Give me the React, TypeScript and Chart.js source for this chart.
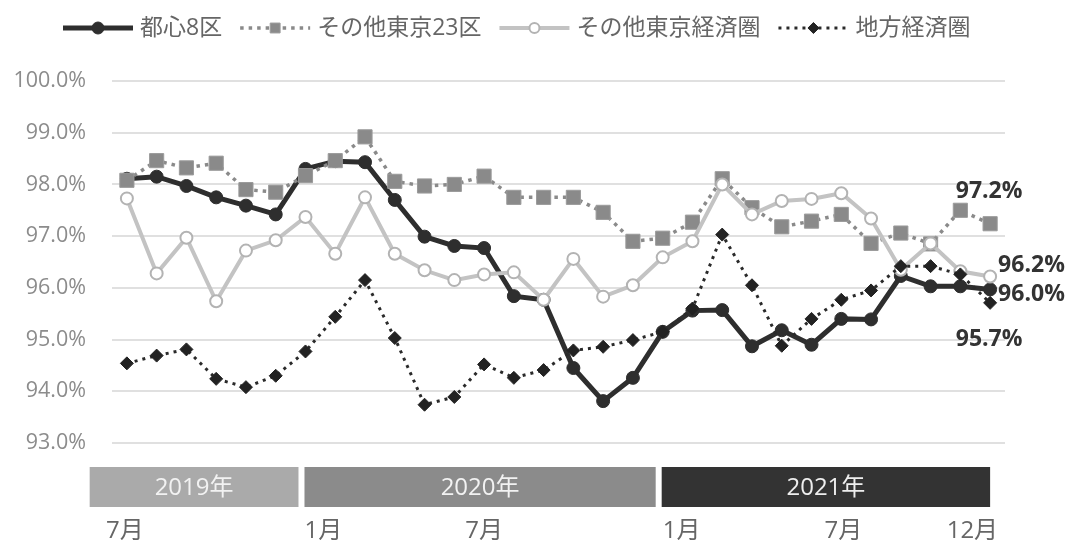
import React, { useEffect, useRef } from 'react';
import { Chart, registerables } from 'chart.js';

Chart.register(...registerables);

// ---- data ----
const months = [
  '2019-07', '2019-08', '2019-09', '2019-10', '2019-11', '2019-12',
  '2020-01', '2020-02', '2020-03', '2020-04', '2020-05', '2020-06',
  '2020-07', '2020-08', '2020-09', '2020-10', '2020-11', '2020-12',
  '2021-01', '2021-02', '2021-03', '2021-04', '2021-05', '2021-06',
  '2021-07', '2021-08', '2021-09', '2021-10', '2021-11', '2021-12',
];

const seriesNames = ['都心8区', 'その他東京23区', 'その他東京経済圏', '地方経済圏'];

const toshin8 = [
  98.11, 98.15, 97.97, 97.75, 97.59, 97.42,
  98.30, 98.45, 98.43, 97.70, 96.99, 96.81,
  96.77, 95.84, 95.77, 94.45, 93.81, 94.26,
  95.15, 95.56, 95.57, 94.87, 95.18, 94.90,
  95.40, 95.39, 96.23, 96.03, 96.03, 95.97,
];

const tokyo23 = [
  98.08, 98.46, 98.32, 98.41, 97.90, 97.85,
  98.17, 98.46, 98.92, 98.06, 97.97, 98.00,
  98.16, 97.75, 97.75, 97.75, 97.46, 96.90,
  96.96, 97.27, 98.11, 97.55, 97.18, 97.29,
  97.42, 96.86, 97.06, 96.85, 97.50, 97.24,
];

const tokyoArea = [
  97.73, 96.28, 96.97, 95.74, 96.72, 96.92,
  97.37, 96.66, 97.75, 96.66, 96.34, 96.15,
  96.26, 96.30, 95.77, 96.56, 95.83, 96.05,
  96.59, 96.90, 98.00, 97.42, 97.68, 97.72,
  97.83, 97.34, 96.35, 96.86, 96.32, 96.22,
];

const regional = [
  94.54, 94.69, 94.81, 94.24, 94.08, 94.30,
  94.77, 95.44, 96.15, 95.03, 93.74, 93.89,
  94.52, 94.26, 94.41, 94.79, 94.86, 94.99,
  95.15, 95.60, 97.03, 96.05, 94.88, 95.40,
  95.77, 95.95, 96.42, 96.42, 96.26, 95.71,
];

const yMin = 93;
const yMax = 100;

const yearLabels = ['2019年', '2020年', '2021年'];
const yearStartIdx = [0, 6, 18];
const yearEndIdx = [5, 17, 29];

const monthTickIdx = [0, 6, 12, 18, 24, 29];
const monthTickLabels = ['7月', '1月', '7月', '1月', '7月', '12月'];

// ---- styles ----
const FONT = "'Open Sans', 'Noto Sans CJK JP', sans-serif";
const yearColors = ['#aaaaaa', '#8b8b8b', '#333333'];
const yearTextColors = ['#f2f2f2', '#f2f2f2', '#eeeeee'];
const monthAligns: CanvasTextAlign[] = ['center', 'left', 'center', 'left', 'center', 'right'];
const monthDx = [-2, -1, 0, 0, 2, 8];

const seriesStyles = [
  { line: '#2e2e2e', width: 5, dash: [] as number[], point: 'circle', radius: 6.5, fill: '#2e2e2e', stroke: '#2e2e2e', pbw: 1, legendRadius: 6 },
  { line: '#8a8a8a', width: 3.5, dash: [3.5, 5], point: 'rect', radius: 10, fill: '#8a8a8a', stroke: '#9b9b9b', pbw: 1, legendRadius: 7 },
  { line: '#c3c3c3', width: 4, dash: [] as number[], point: 'circle', radius: 6, fill: '#ffffff', stroke: '#b3b3b3', pbw: 2, legendRadius: 5 },
  { line: '#2a2a2a', width: 3, dash: [3, 5], point: 'rectRot', radius: 6.5, fill: '#222222', stroke: '#222222', pbw: 1, legendRadius: 5.5 },
];

const endLabelStyle = [
  { align: 'left' as CanvasTextAlign, dx: 8, dy: 5 },
  { align: 'center' as CanvasTextAlign, dx: -1, dy: -32 },
  { align: 'left' as CanvasTextAlign, dx: 8, dy: -11 },
  { align: 'center' as CanvasTextAlign, dx: -1, dy: 37 },
];

const seriesData = [toshin8, tokyo23, tokyoArea, regional];

function drawMarker(ctx: CanvasRenderingContext2D, style: string, x: number, y: number, r: number, fill: string, stroke: string, bw: number) {
  ctx.save();
  ctx.fillStyle = fill;
  ctx.strokeStyle = stroke;
  ctx.lineWidth = bw;
  ctx.setLineDash([]);
  ctx.beginPath();
  if (style === 'circle') {
    ctx.arc(x, y, r, 0, Math.PI * 2);
  } else if (style === 'rect') {
    const s = Math.SQRT1_2 * r;
    ctx.rect(x - s, y - s, 2 * s, 2 * s);
  } else {
    ctx.moveTo(x, y - r);
    ctx.lineTo(x + r, y);
    ctx.lineTo(x, y + r);
    ctx.lineTo(x - r, y);
    ctx.closePath();
  }
  ctx.fill();
  if (bw > 0) ctx.stroke();
  ctx.restore();
}

const decorPlugin = {
  id: 'decor',
  afterDraw(chart: any) {
    const ctx: CanvasRenderingContext2D = chart.ctx;
    const xs = chart.scales.x;
    const area = chart.chartArea;
    const px = (i: number) => xs.getPixelForValue(i);
    const step = px(1) - px(0);

    // year bands
    ctx.save();
    yearLabels.forEach((lab, i) => {
      const left = i === 0 ? px(yearStartIdx[i]) - 1.25 * step : px(yearStartIdx[i]) - 1;
      const right = i === yearLabels.length - 1 ? px(yearEndIdx[i]) : px(yearEndIdx[i] + 1) - 7;
      const top = area.bottom + 24;
      const h = 40;
      ctx.fillStyle = yearColors[i];
      ctx.fillRect(left, top, right - left, h);
      ctx.fillStyle = yearTextColors[i];
      ctx.font = `24px ${FONT}`;
      ctx.textAlign = 'center';
      ctx.textBaseline = 'middle';
      ctx.fillText(lab, (left + right) / 2, top + h / 2 + 1);
    });

    // month labels
    ctx.fillStyle = '#666666';
    ctx.font = `24px ${FONT}`;
    ctx.textBaseline = 'middle';
    monthTickIdx.forEach((idx, i) => {
      ctx.textAlign = monthAligns[i];
      ctx.fillText(monthTickLabels[i], px(idx) + monthDx[i], area.bottom + 88);
    });
    ctx.restore();

    // legend
    ctx.save();
    let lx = 63;
    const ly = 28;
    ctx.font = `23px ${FONT}`;
    ctx.textBaseline = 'middle';
    ctx.textAlign = 'left';
    seriesNames.forEach((name, i) => {
      const st = seriesStyles[i];
      const sw = 70;
      ctx.save();
      ctx.strokeStyle = st.line;
      ctx.lineWidth = st.width;
      ctx.setLineDash(st.dash);
      ctx.beginPath();
      ctx.moveTo(lx, ly);
      ctx.lineTo(lx + sw, ly);
      ctx.stroke();
      ctx.restore();
      drawMarker(ctx, st.point, lx + sw / 2, ly, st.legendRadius, st.fill, st.stroke, st.pbw);
      ctx.fillStyle = '#666666';
      ctx.fillText(name, lx + sw + 7, ly);
      const tw = ctx.measureText(name).width;
      lx += sw + 7 + tw + 18;
    });
    ctx.restore();

    // end labels
    ctx.save();
    ctx.font = `bold 23px ${FONT}`;
    ctx.fillStyle = '#333333';
    ctx.textBaseline = 'middle';
    seriesData.forEach((arr, i) => {
      const meta = chart.getDatasetMeta(i);
      const pt = meta.data[arr.length - 1];
      const st = endLabelStyle[i];
      ctx.textAlign = st.align;
      ctx.fillText(arr[arr.length - 1].toFixed(1) + '%', pt.x + st.dx, pt.y + st.dy);
    });
    ctx.restore();
  },
};

export default function App() {
  const ref = useRef<HTMLCanvasElement | null>(null);

  useEffect(() => {
    if (!ref.current) return;
    const datasets = seriesData.map((arr, i) => {
      const st = seriesStyles[i];
      return {
        label: seriesNames[i],
        data: arr,
        borderColor: st.line,
        backgroundColor: st.fill,
        borderWidth: st.width,
        borderDash: st.dash,
        pointStyle: st.point,
        pointRadius: st.radius,
        pointBackgroundColor: st.fill,
        pointBorderColor: st.stroke,
        pointBorderWidth: st.pbw,
        tension: 0,
        fill: false,
        order: 4 - i,
      };
    });

    const chart = new Chart(ref.current, {
      type: 'line',
      data: { labels: months, datasets: datasets as any },
      options: {
        animation: false,
        responsive: true,
        maintainAspectRatio: false,
        layout: { padding: { top: 81, bottom: 97, left: 0, right: 65 } },
        plugins: {
          legend: { display: false },
          tooltip: { enabled: false },
        },
        scales: {
          x: {
            type: 'category',
            offset: true,
            grid: { display: false },
            border: { display: false },
            ticks: { display: false },
            afterFit: (s: any) => { s.height = 0; },
          },
          y: {
            min: yMin,
            max: yMax,
            grid: { color: '#e0e0e0', lineWidth: 2, drawTicks: false },
            border: { display: false },
            ticks: {
              stepSize: 1,
              padding: 26,
              color: '#8c8c8c',
              font: { family: FONT, size: 21.5 },
              callback: (v: any) => Number(v).toFixed(1) + '%',
            },
            afterFit: (s: any) => { s.width = 112; },
          },
        },
      },
      plugins: [decorPlugin],
    });
    return () => chart.destroy();
  }, []);

  return (
    <div style={{ position: 'fixed', left: 0, top: 0, width: 1070, height: 540, background: '#ffffff' }}>
      <canvas ref={ref} />
    </div>
  );
}
